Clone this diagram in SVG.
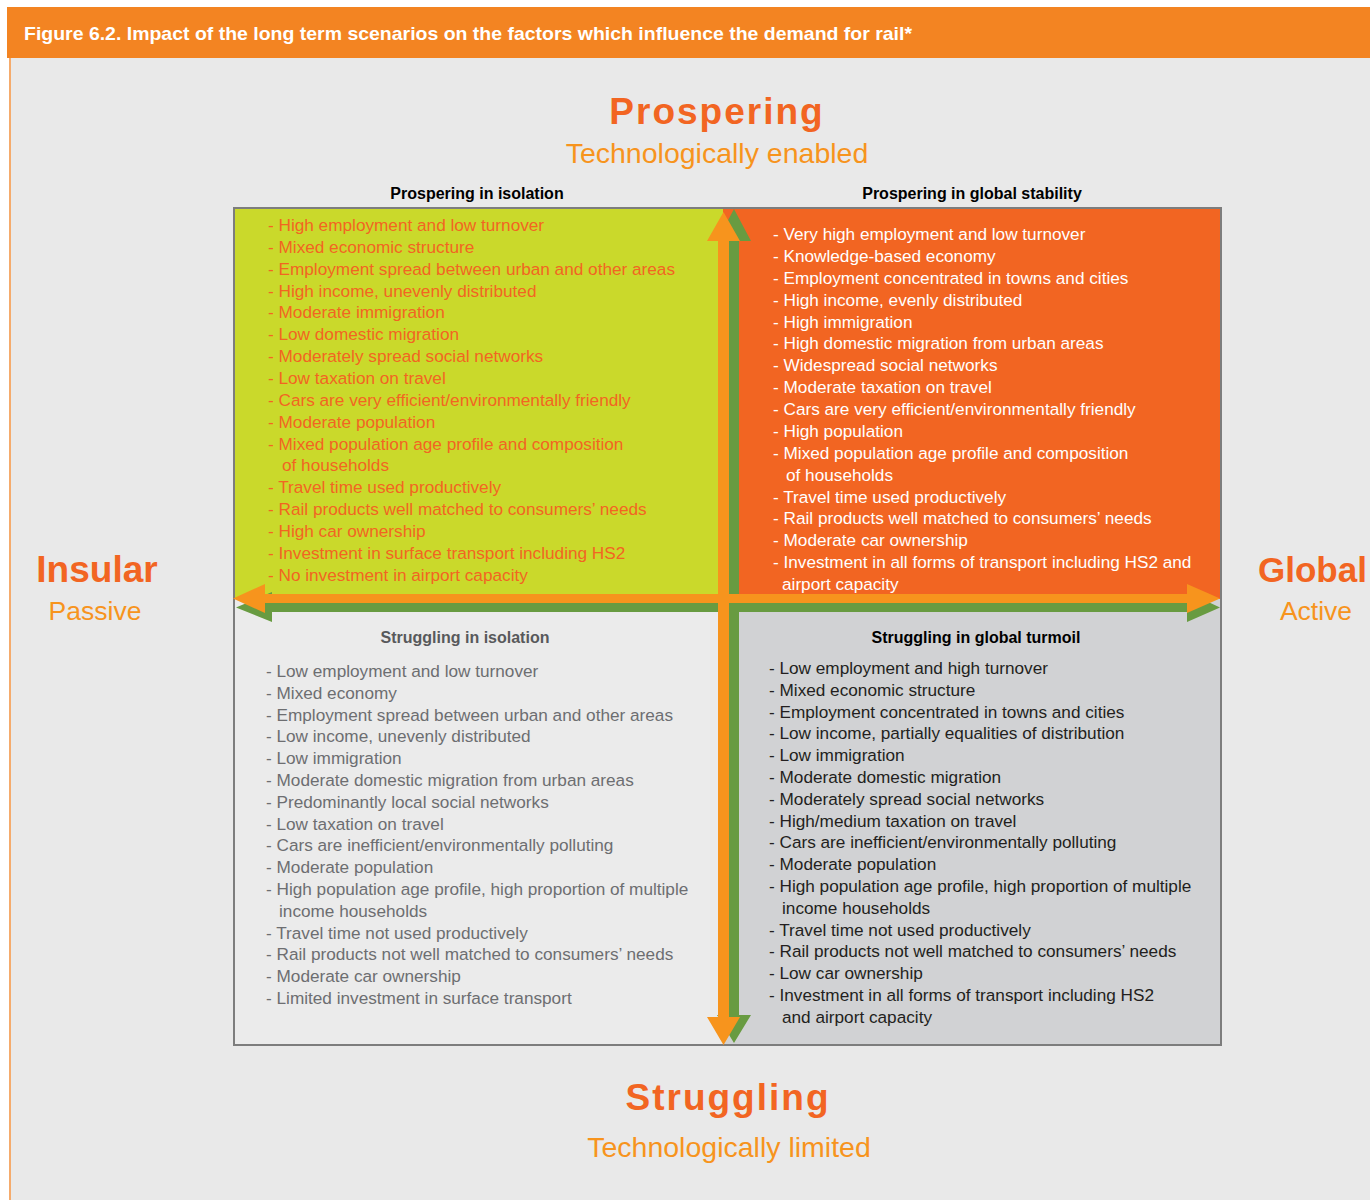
<svg xmlns="http://www.w3.org/2000/svg" width="1370" height="1200" viewBox="0 0 1370 1200">
  <defs>
    <style>
      text { font-family: "Liberation Sans", "DejaVu Sans", sans-serif; }
      .hdr { font-size: 19px; font-weight: bold; fill: #ffffff; }
      .axis { font-size: 37px; font-weight: bold; fill: #f26522; letter-spacing: 2px; }
      .axis-sub { font-size: 28.5px; fill: #f7941d; }
      .side-sub { font-size: 26.5px; fill: #f7941d; }
      .qt { font-size: 16px; font-weight: bold; text-anchor: middle; }
      .li { font-size: 17.2px; }
      .tl { fill: #f26522; }
      .tr { fill: #ffffff; }
      .bl { fill: #6d6e71; }
      .br { fill: #231f20; }
      .green { fill: #689b41; }
      .orange { fill: #f7941d; }
    </style>
  </defs>

  <!-- page background -->
  <rect x="0" y="0" width="1370" height="1200" fill="#ffffff"/>
  <rect x="10" y="57" width="1360" height="1143" fill="#e9e9e9"/>
  <rect x="9" y="57" width="2" height="1143" fill="#f5ab6c"/>

  <!-- figure caption bar -->
  <g id="caption">
    <rect x="7" y="7" width="1363" height="51" fill="#f38422"/>
    <text class="hdr" x="24" y="40" textLength="888" lengthAdjust="spacingAndGlyphs">Figure 6.2. Impact of the long term scenarios on the factors which influence the demand for rail*</text>
  </g>

  <!-- axis labels -->
  <g id="axis-top">
    <text class="axis" x="717" y="124" text-anchor="middle">Prospering</text>
    <text class="axis-sub" x="717" y="163" text-anchor="middle">Technologically enabled</text>
  </g>
  <g id="axis-bottom">
    <text class="axis" x="728" y="1110" text-anchor="middle">Struggling</text>
    <text class="axis-sub" x="729" y="1157" text-anchor="middle">Technologically limited</text>
  </g>
  <g id="axis-left">
    <text class="axis" x="97" y="582" text-anchor="middle" style="letter-spacing:0">Insular</text>
    <text class="side-sub" x="95" y="620" text-anchor="middle">Passive</text>
  </g>
  <g id="axis-right">
    <text class="axis" x="1258" y="582" style="letter-spacing:0; font-size:35px">Global</text>
    <text class="side-sub" x="1316" y="620" text-anchor="middle">Active</text>
  </g>

  <!-- quadrant headings above the grid -->
  <text class="qt" x="477" y="199" fill="#000000">Prospering in isolation</text>
  <text class="qt" x="972" y="199" fill="#000000">Prospering in global stability</text>

  <!-- quadrant fills and factor lists -->
  <g id="quadrant-prospering-isolation">
    <rect x="234" y="208" width="489" height="391" fill="#cad92b"/>
    <g class="li tl">
      <text x="268" y="231">- High employment and low turnover</text>
      <text x="268" y="252.85">- Mixed economic structure</text>
      <text x="268" y="274.7">- Employment spread between urban and other areas</text>
      <text x="268" y="296.55">- High income, unevenly distributed</text>
      <text x="268" y="318.4">- Moderate immigration</text>
      <text x="268" y="340.25">- Low domestic migration</text>
      <text x="268" y="362.1">- Moderately spread social networks</text>
      <text x="268" y="383.95">- Low taxation on travel</text>
      <text x="268" y="405.8">- Cars are very efficient/environmentally friendly</text>
      <text x="268" y="427.65">- Moderate population</text>
      <text x="268" y="449.5">- Mixed population age profile and composition</text>
      <text x="282" y="471.35">of households</text>
      <text x="268" y="493.2">- Travel time used productively</text>
      <text x="268" y="515.05">- Rail products well matched to consumers’ needs</text>
      <text x="268" y="536.9">- High car ownership</text>
      <text x="268" y="558.75">- Investment in surface transport including HS2</text>
      <text x="268" y="580.6">- No investment in airport capacity</text>
    </g>
  </g>

  <g id="quadrant-prospering-global">
    <rect x="723" y="208" width="498" height="391" fill="#f26522"/>
    <g class="li tr">
      <text x="773" y="240">- Very high employment and low turnover</text>
      <text x="773" y="261.875">- Knowledge-based economy</text>
      <text x="773" y="283.75">- Employment concentrated in towns and cities</text>
      <text x="773" y="305.625">- High income, evenly distributed</text>
      <text x="773" y="327.5">- High immigration</text>
      <text x="773" y="349.375">- High domestic migration from urban areas</text>
      <text x="773" y="371.25">- Widespread social networks</text>
      <text x="773" y="393.125">- Moderate taxation on travel</text>
      <text x="773" y="415">- Cars are very efficient/environmentally friendly</text>
      <text x="773" y="436.875">- High population</text>
      <text x="773" y="458.75">- Mixed population age profile and composition</text>
      <text x="786" y="480.625">of households</text>
      <text x="773" y="502.5">- Travel time used productively</text>
      <text x="773" y="524.375">- Rail products well matched to consumers’ needs</text>
      <text x="773" y="546.25">- Moderate car ownership</text>
      <text x="773" y="568.125">- Investment in all forms of transport including HS2 and</text>
      <text x="782" y="590">airport capacity</text>
    </g>
  </g>

  <g id="quadrant-struggling-isolation">
    <rect x="234" y="599" width="489" height="446" fill="#ebebeb"/>
    <text class="qt" x="465" y="643" fill="#58595b">Struggling in isolation</text>
    <g class="li bl">
      <text x="266" y="677">- Low employment and low turnover</text>
      <text x="266" y="698.8">- Mixed economy</text>
      <text x="266" y="720.6">- Employment spread between urban and other areas</text>
      <text x="266" y="742.4">- Low income, unevenly distributed</text>
      <text x="266" y="764.2">- Low immigration</text>
      <text x="266" y="786">- Moderate domestic migration from urban areas</text>
      <text x="266" y="807.8">- Predominantly local social networks</text>
      <text x="266" y="829.6">- Low taxation on travel</text>
      <text x="266" y="851.4">- Cars are inefficient/environmentally polluting</text>
      <text x="266" y="873.2">- Moderate population</text>
      <text x="266" y="895">- High population age profile, high proportion of multiple</text>
      <text x="279" y="916.8">income households</text>
      <text x="266" y="938.6">- Travel time not used productively</text>
      <text x="266" y="960.4">- Rail products not well matched to consumers’ needs</text>
      <text x="266" y="982.2">- Moderate car ownership</text>
      <text x="266" y="1004">- Limited investment in surface transport</text>
    </g>
  </g>

  <g id="quadrant-struggling-global">
    <rect x="723" y="599" width="498" height="446" fill="#d1d2d4"/>
    <text class="qt" x="976" y="643" fill="#000000">Struggling in global turmoil</text>
    <g class="li br">
      <text x="769" y="674">- Low employment and high turnover</text>
      <text x="769" y="695.8">- Mixed economic structure</text>
      <text x="769" y="717.6">- Employment concentrated in towns and cities</text>
      <text x="769" y="739.4">- Low income, partially equalities of distribution</text>
      <text x="769" y="761.2">- Low immigration</text>
      <text x="769" y="783">- Moderate domestic migration</text>
      <text x="769" y="804.8">- Moderately spread social networks</text>
      <text x="769" y="826.6">- High/medium taxation on travel</text>
      <text x="769" y="848.4">- Cars are inefficient/environmentally polluting</text>
      <text x="769" y="870.2">- Moderate population</text>
      <text x="769" y="892">- High population age profile, high proportion of multiple</text>
      <text x="782" y="913.8">income households</text>
      <text x="769" y="935.6">- Travel time not used productively</text>
      <text x="769" y="957.4">- Rail products not well matched to consumers’ needs</text>
      <text x="769" y="979.2">- Low car ownership</text>
      <text x="769" y="1001">- Investment in all forms of transport including HS2</text>
      <text x="782" y="1022.8">and airport capacity</text>
    </g>
  </g>

  <!-- grid outline -->
  <rect x="234" y="208" width="987" height="837" fill="none" stroke="#7d7d7d" stroke-width="2"/>

  <!-- axis arrows: green shadow arrows behind, orange arrows on top -->
  <g id="connectors">
    <polygon class="green" points="734,209 751,241 739,241 739,1015 751,1015 734,1043 717,1015 729,1015 729,241 717,241"/>
    <polygon class="green" points="236,607.5 272,592 272,603 1187,603 1187,592 1220,607.5 1187,622 1187,612 272,612 272,622"/>
    <polygon class="orange" points="723.5,212 740,241 729,241 729,1017 740,1017 723.5,1045 707,1017 718,1017 718,241 707,241"/>
    <polygon class="orange" points="233,598.5 265,584 265,594 1187,594 1187,584 1220,598.5 1187,613 1187,603 265,603 265,613"/>
  </g>
</svg>
